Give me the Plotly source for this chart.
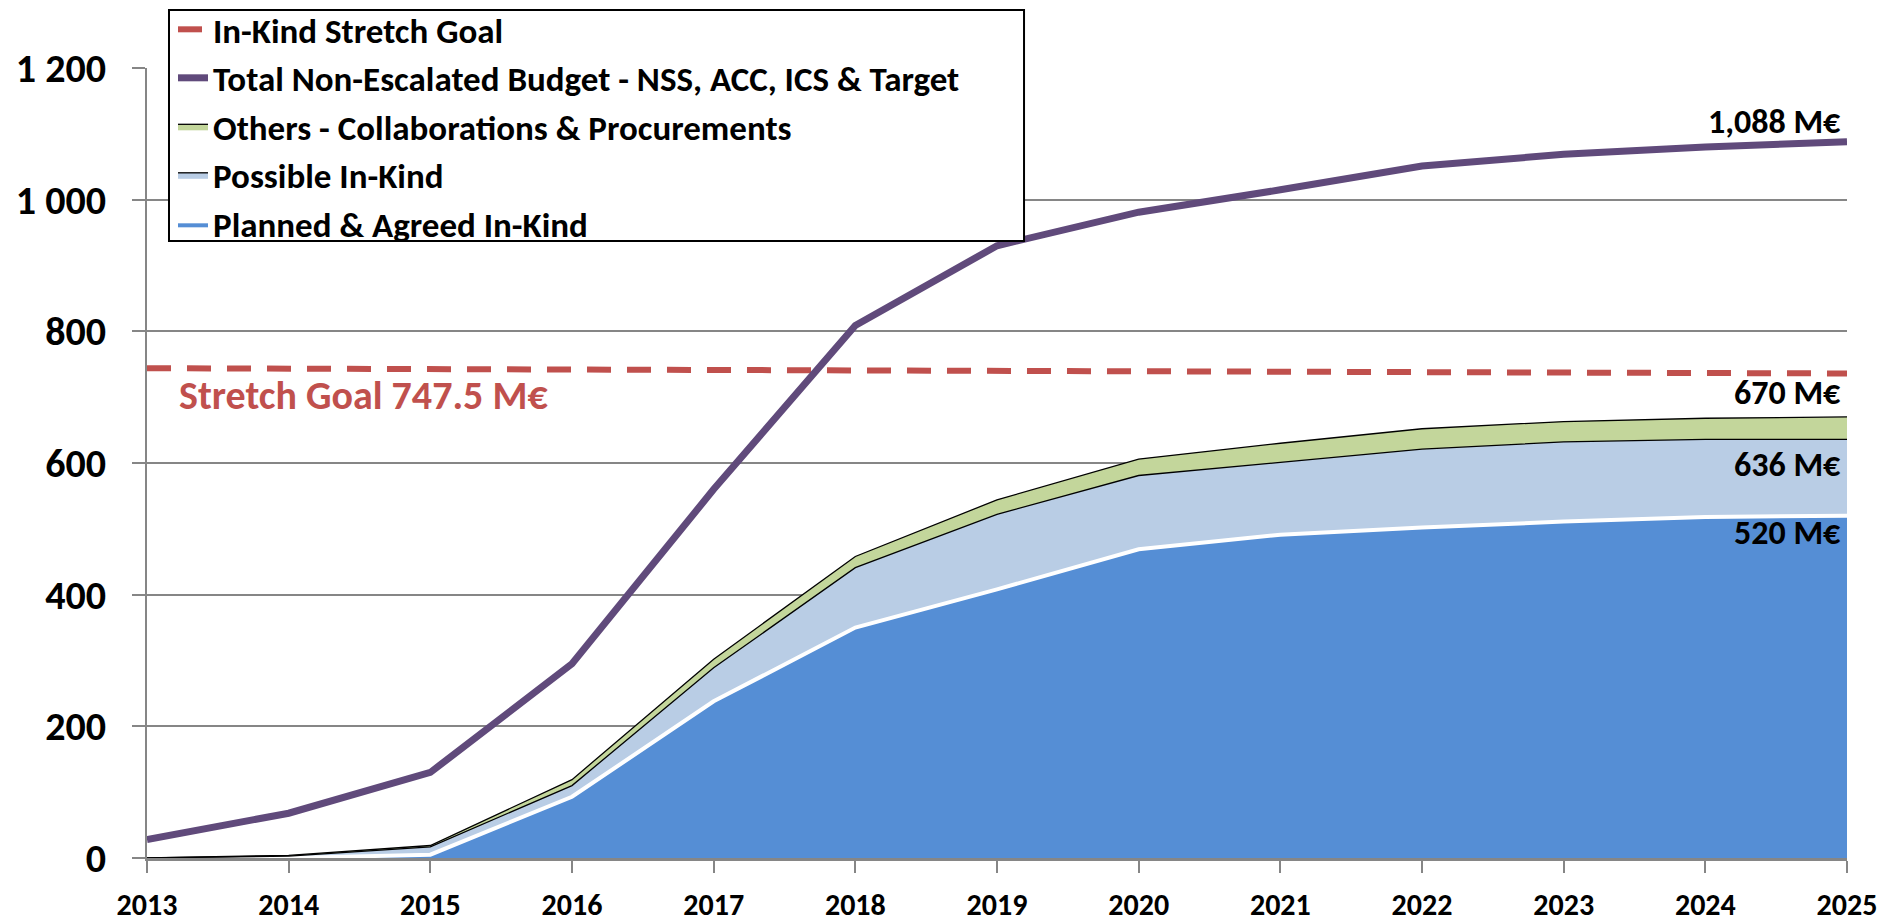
import plotly.graph_objects as go

years = [2013, 2014, 2015, 2016, 2017, 2018, 2019, 2020, 2021, 2022, 2023, 2024, 2025]
planned_agreed = [0, 0, 5, 93, 238, 350, 408, 469, 491, 502, 511, 518, 520]
possible_inkind = [0, 3, 12, 17, 51, 91, 114, 112, 110, 119, 121, 118, 116]
others = [0, 1, 2, 9, 13, 17, 22, 25, 29, 31, 31, 32, 34]
total_budget = [28, 68, 130, 295, 560, 809, 930, 981, 1015, 1051, 1069, 1080, 1088]
stretch_x = [2013, 2025]
stretch_y = [744, 736]

y_ticks = [0, 200, 400, 600, 800, 1000, 1200]
y_ticktext = ["0", "200", "400", "600", "800", "1 000", "1 200"]

FONT = "Carlito, Calibri, Lato, sans-serif"
BLUE = "#558ED5"
LBLUE = "#B9CDE5"
GREEN = "#C3D69B"
PURPLE = "#604A7B"
RED = "#C0504D"
GRID = "#868686"

fig = go.Figure()

fig.add_trace(go.Scatter(
    x=years, y=planned_agreed, name="Planned & Agreed In-Kind",
    stackgroup="inkind", mode="lines", fillcolor=BLUE,
    line=dict(color="white", width=4), legendrank=5))
fig.add_trace(go.Scatter(
    x=years, y=possible_inkind, name="Possible In-Kind",
    stackgroup="inkind", mode="lines", fillcolor=LBLUE,
    line=dict(color="black", width=1.3), legendrank=4))
fig.add_trace(go.Scatter(
    x=years, y=others, name="Others - Collaborations & Procurements",
    stackgroup="inkind", mode="lines", fillcolor=GREEN,
    line=dict(color="black", width=1.3), legendrank=3))
fig.add_trace(go.Scatter(
    x=stretch_x, y=stretch_y, name="In-Kind Stretch Goal", mode="lines",
    line=dict(color=RED, width=6, dash="24px,16px"), legendrank=1))
fig.add_trace(go.Scatter(
    x=years, y=total_budget, name="Total Non-Escalated Budget - NSS, ACC, ICS & Target",
    mode="lines", line=dict(color=PURPLE, width=7), legendrank=2))

labels = [
    (1119, "1,088 M€"),
    (707, "670 M€"),
    (597, "636 M€"),
    (495, "520 M€"),
]
for yv, txt in labels:
    fig.add_annotation(x=2025, y=yv, text=txt, showarrow=False,
                       xanchor="right", yanchor="middle", xshift=-4,
                       font=dict(family=FONT, size=34, color="black", weight="bold"))

fig.add_annotation(x=2013.21, y=702, text="Stretch Goal 747.5 M€", showarrow=False,
                   xanchor="left", yanchor="middle",
                   font=dict(family=FONT, size=40, color=RED, weight="bold"))

# legend frame (white box with black border) drawn as a shape
fig.add_shape(type="rect", xref="paper", yref="paper",
              x0=0.01294, x1=0.5159, y0=0.781, y1=1.0735,
              fillcolor="white", line=dict(color="black", width=2), layer="above")

fig.update_layout(
    width=1893, height=922,
    margin=dict(l=139, r=54, t=60, b=72, autoexpand=False),
    paper_bgcolor="white", plot_bgcolor="white",
    font=dict(family=FONT, color="black"),
    showlegend=True,
    legend=dict(
        x=0.0153, y=1.086, xanchor="left", yanchor="top",
        bgcolor="rgba(0,0,0,0)", borderwidth=0,
        traceorder="normal",
        font=dict(family=FONT, size=35, color="black", weight="bold"),
        itemwidth=30, tracegroupgap=0,
    ),
    xaxis=dict(
        range=[2013, 2025], tickmode="array", tickvals=years,
        ticktext=[str(y) for y in years],
        showgrid=False, zeroline=False, automargin=False,
        showline=True, linecolor=GRID, linewidth=2.5,
        ticks="outside", ticklen=12, tickcolor=GRID, tickwidth=2,
        ticklabelstandoff=6,
        tickfont=dict(family=FONT, size=30, color="black", weight="bold"),
    ),
    yaxis=dict(
        range=[0, 1200], tickmode="array", tickvals=y_ticks,
        ticktext=y_ticktext,
        showgrid=True, gridcolor=GRID, gridwidth=2, zeroline=False,
        automargin=False,
        showline=True, linecolor=GRID, linewidth=2,
        ticks="outside", ticklen=13, tickcolor=GRID, tickwidth=2,
        ticklabelstandoff=18,
        tickfont=dict(family=FONT, size=40, color="black", weight="bold"),
    ),
)

fig.write_html("out.html")
